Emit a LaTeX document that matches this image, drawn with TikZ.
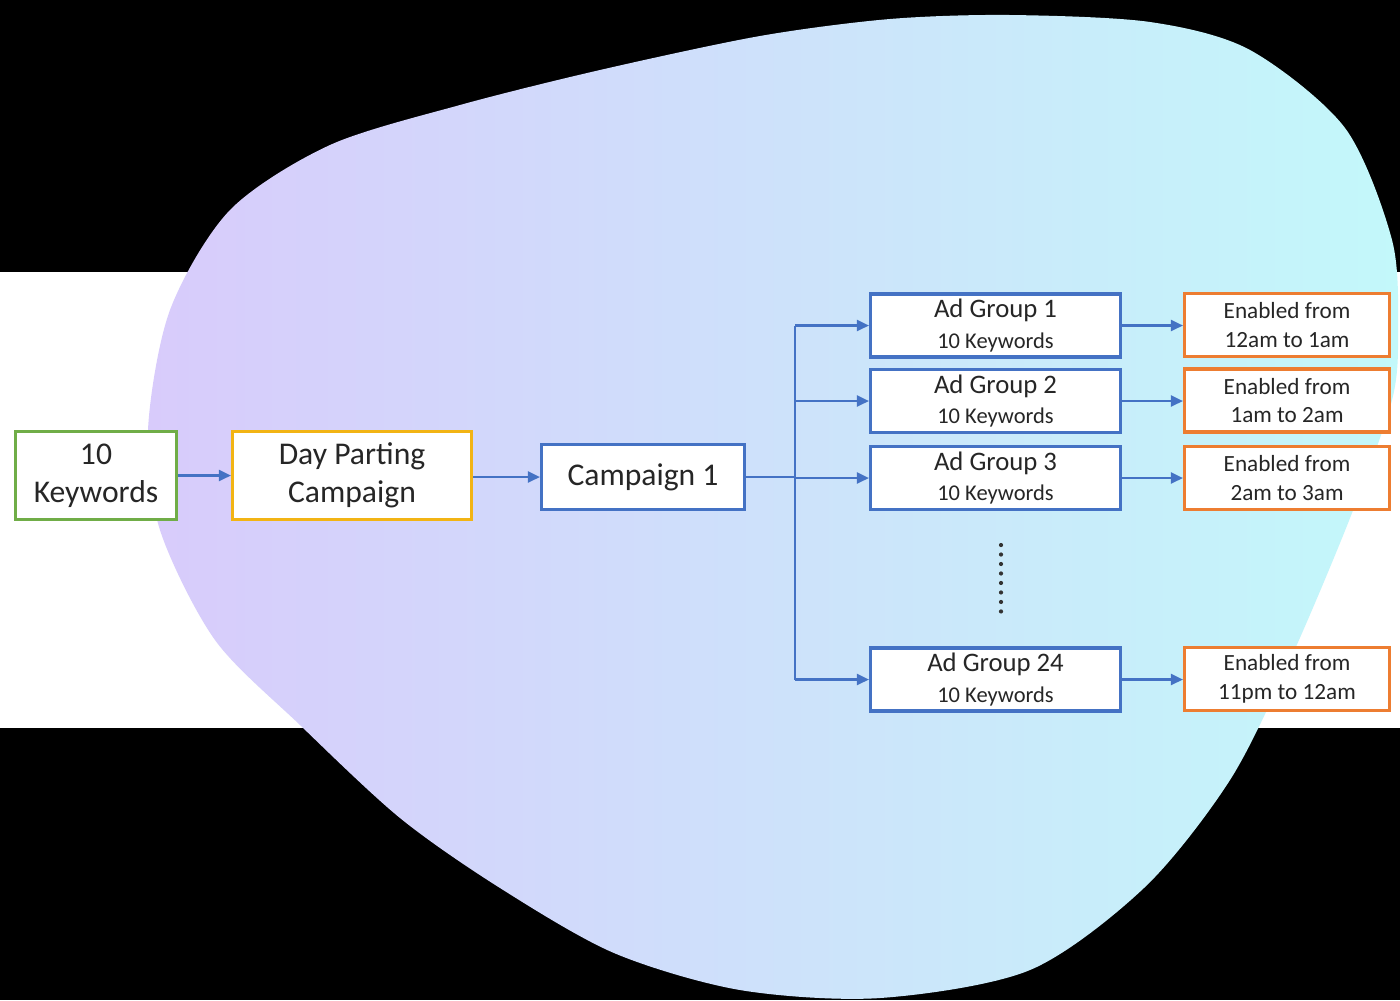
\documentclass[tikz,border=0pt]{standalone}
\usepackage{fontspec}
\setmainfont{Carlito}
\usetikzlibrary{arrows.meta}
\definecolor{kwgreen}{RGB}{112,173,71}
\definecolor{dpgold}{RGB}{242,180,20}
\definecolor{agblue}{RGB}{68,114,196}
\definecolor{enorange}{RGB}{237,125,49}
\definecolor{blobleft}{RGB}{216,203,251}
\definecolor{blobright}{RGB}{195,248,250}
\definecolor{txt}{RGB}{38,38,38}

\begin{document}
\begin{tikzpicture}[x=0.1mm,y=-0.1mm,
  box/.style={draw,fill=white,line width=0.9pt,inner sep=0pt,align=center,text=txt},
  bigbox/.style={box,font=\fontsize{9}{10.8}\selectfont},
  agbox/.style={box,draw=agblue,minimum width=25mm,minimum height=6.3mm,
     font=\fontsize{7.6}{8.6}\selectfont},
  enbox/.style={box,draw=enorange,minimum width=20.5mm,minimum height=6.3mm,
     font=\fontsize{6.6}{8.2}\selectfont},
  arr/.style={-{Triangle[length=1.2mm,width=1.1mm]},draw=agblue,line width=0.6pt}]
\useasboundingbox (0,0) rectangle (1400,1000);
% backdrop
\fill[black] (0,0) rectangle (1400,1000);
\fill[white] (0,272) rectangle (1400,728);
\path[left color=blobleft,right color=blobright] plot[smooth cycle] coordinates
     {(1010,15) (1150,22) (1250,50) (1345,128) (1392,240) (1398,330) (1392,400)
      (1350,518) (1290,660) (1230,780) (1145,887) (1030,970) (880,998)
      (740,990) (614,953) (500,888) (400,818) (300,725) (215,640) (160,530)
      (148,430) (170,310) (230,210) (330,145) (460,105) (600,70) (760,36)
      (890,19)};

\node[bigbox,draw=kwgreen,minimum width=16.1mm,minimum height=8.8mm] (kw)
     at (96,475.5) {10\\Keywords};
\node[bigbox,draw=dpgold,minimum width=23.9mm,minimum height=8.8mm] (dp)
     at (352,475.5) {Day Parting\\Campaign};
\node[bigbox,draw=agblue,minimum width=20.3mm,minimum height=6.5mm] (camp)
     at (643,477) {Campaign 1};
\foreach \i/\y in {1/325.5,2/401,3/478,24/679.5}
  \node[agbox] (ag\i) at (995.5,\y)
     {Ad Group \i\\{\fontsize{6.4}{8.6}\selectfont 10 Keywords}};
\foreach \i/\y/\t in {1/325/12am to 1am,2/400.5/1am to 2am,3/478/2am to 3am,24/679/11pm to 12am}
  \node[enbox] (en\i) at (1287,\y) {Enabled from\\\t};

\draw[arr] (kw) -- (dp);
\draw[arr] (dp.east |- camp) -- (camp);
\coordinate (br) at ([xshift=4.9mm]camp.east);
\draw[agblue,line width=0.6pt] (camp.east) -- (br) (br |- ag1) -- (br |- ag24);
\foreach \i in {1,2,3,24} {
  \draw[arr] (br |- ag\i) -- (ag\i);
  \draw[arr] (ag\i.east) -- (ag\i.east -| en\i.west);
}
\coordinate (dtop) at (1001,545);
\coordinate (dbot) at (1001,620);
\draw[black!80,line width=1.2pt,line cap=round,dash pattern=on 0pt off 2.7pt]
     (dtop) -- (dbot);
\end{tikzpicture}
\end{document}
